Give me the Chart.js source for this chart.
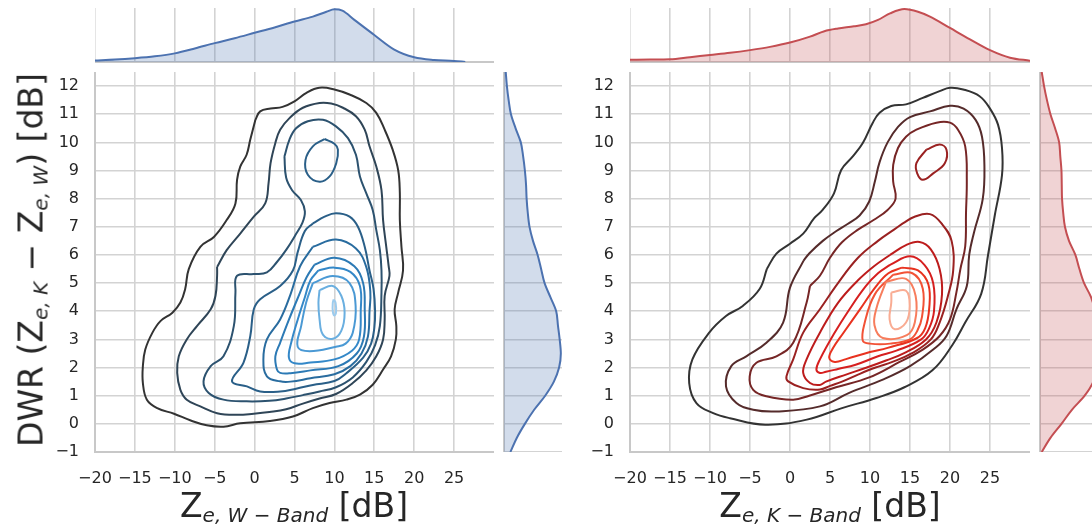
<!DOCTYPE html>
<html>
<head>
<meta charset="utf-8">
<script src="https://cdn.jsdelivr.net/npm/chart.js@4.4.1/dist/chart.umd.min.js"></script>
<style>
  html, body { margin: 0; padding: 0; background: #fff; overflow: hidden; }
  body { width: 1092px; height: 524px; position: relative; font-family: "DejaVu Sans", sans-serif; color: #262626; }
  .pane { position: absolute; }
  .pane canvas { display: block; }
  .xt { position: absolute; top: 489px; transform: translateX(-50%); font-size: 33px; line-height: 1; white-space: nowrap; }
  .yt { position: absolute; left: 31px; top: 260px; transform: translate(-50%, -50%) rotate(-90deg); font-size: 33px; line-height: 1; white-space: nowrap; }
  .sub { font-size: 20px; font-style: italic; position: relative; top: 5px; }
</style>
</head>
<body>
<div class="pane" style="left:95px;top:8px"><canvas id="wTop" width="399" height="56"></canvas></div>
<div class="pane" style="left:630px;top:8px"><canvas id="kTop" width="400" height="56"></canvas></div>
<div class="pane" style="left:35px;top:72px"><canvas id="wMain" width="459" height="420"></canvas></div>
<div class="pane" style="left:570px;top:72px"><canvas id="kMain" width="460" height="420"></canvas></div>
<div class="pane" style="left:503px;top:72px"><canvas id="wSide" width="59" height="380"></canvas></div>
<div class="pane" style="left:1039px;top:72px"><canvas id="kSide" width="59" height="380"></canvas></div>

<div class="yt">DWR (Z<span class="sub">e, K</span> − Z<span class="sub">e, W</span>) [dB]</div>
<div class="xt" style="left:294px">Z<span class="sub">e, W − Band</span> [dB]</div>
<div class="xt" style="left:830px">Z<span class="sub">e, K − Band</span> [dB]</div>

<script>
// axes
const xRange = [-20, 30];
const yRange = [-1, 12.5];
const xTicks = [-20, -15, -10, -5, 0, 5, 10, 15, 20, 25];
const yTicks = [-1, 0, 1, 2, 3, 4, 5, 6, 7, 8, 9, 10, 11, 12];

// marginal kde, W band (top: over Ze, side: over DWR), relative density
const wTopX = [-20, -17.5, -15, -12.5, -10, -7.5, -5, -2.5, 0, 2.5, 5, 7.3, 9, 10, 11, 12.5, 15, 17.5, 20, 22.5, 25, 26.4];
const wTopDens = [0.03, 0.045, 0.07, 0.105, 0.16, 0.25, 0.35, 0.44, 0.54, 0.64, 0.75, 0.84, 0.93, 0.975, 0.95, 0.78, 0.50, 0.23, 0.087, 0.037, 0.02, 0.0];
const sideY = [-1, -0.5, 0, 0.5, 1, 1.5, 2, 2.5, 3, 3.5, 4, 4.5, 5, 5.5, 6, 6.5, 7, 7.5, 8, 8.5, 9, 9.5, 10, 10.5, 11, 11.5, 12, 12.5];
const wSideDens = [0.11, 0.22, 0.36, 0.52, 0.71, 0.86, 0.95, 0.98, 0.96, 0.93, 0.90, 0.80, 0.70, 0.64, 0.58, 0.50, 0.44, 0.41, 0.39, 0.38, 0.36, 0.33, 0.29, 0.20, 0.12, 0.08, 0.05, 0.03];

// marginal kde, K band
const kTopX = [-20, -17.5, -15, -12.5, -10, -7.5, -5, -2.5, 0, 2.5, 4.3, 6, 8, 9.5, 11, 12.5, 14.3, 16, 17.5, 20, 22.5, 25, 27.5, 30];
const kTopDens = [0.04, 0.045, 0.05, 0.09, 0.13, 0.17, 0.22, 0.28, 0.36, 0.47, 0.57, 0.62, 0.66, 0.70, 0.78, 0.90, 0.98, 0.93, 0.84, 0.63, 0.42, 0.22, 0.08, 0.025];
const kSideDens = [0.03, 0.18, 0.37, 0.55, 0.77, 0.92, 0.98, 1.0, 0.99, 0.97, 0.95, 0.88, 0.76, 0.68, 0.61, 0.50, 0.43, 0.40, 0.38, 0.375, 0.37, 0.35, 0.33, 0.26, 0.18, 0.12, 0.07, 0.03];

// 2d kde contours, W band: [Ze, DWR] vertices, outermost level first
const wLevels = [0, 1, 2, 3, 3, 4, 5, 6, 7, 8, 9];
const wPaths = [
  [[0.1,10.8],[0.7,11.1],[2,11.2],[3.5,11.26],[5,11.46],[6.5,11.76],[8.1,11.94],[10,11.88],[11.9,11.7],[14,11.4],[15.25,11.05],[16.3,10.45],[17.3,9.74],[18,9.0],[18.2,8.2],[18.2,7.24],[18.4,6.3],[18.6,5.45],[18,4.67],[17.55,4.07],[17.76,3.48],[17.7,3.0],[17.1,2.4],[16.1,1.93],[14.8,1.39],[13.2,1.04],[11.5,0.86],[9.4,0.74],[7.3,0.56],[4.8,0.26],[1.9,0.1],[-1.8,0.02],[-3.9,-0.1],[-6,-0.05],[-8,0.12],[-10.1,0.36],[-12.2,0.56],[-13.5,0.86],[-14,1.45],[-14,2.05],[-13.7,2.64],[-12.8,3.24],[-11.8,3.65],[-10.3,3.95],[-9.3,4.31],[-8.7,4.79],[-8.25,5.5],[-6.8,6.29],[-5.1,6.64],[-3.5,7.24],[-2.4,7.83],[-2.2,8.67],[-1.8,9.14],[-1,9.56],[-0.54,10.1],[0.1,10.8]],
  [[-4.7,5.57],[-3.5,6.17],[-1.8,6.76],[-0.1,7.36],[1.33,7.83],[1.75,8.55],[2.0,9.26],[2.6,9.98],[3.2,10.45],[4.4,10.87],[6.05,11.23],[8.14,11.4],[9.6,11.38],[11.07,11.23],[12.7,10.93],[13.8,10.45],[14.4,9.86],[15.25,9.14],[15.9,8.3],[16.1,7.24],[16.5,6.29],[16.8,5.6],[16.9,5.26],[16.3,4.55],[16.3,3.71],[16.1,3.0],[15.25,2.4],[14,1.9],[12.3,1.45],[10.2,1.06],[8.14,0.9],[6.05,0.72],[3.95,0.52],[1.86,0.42],[-0.1,0.36],[-2.2,0.32],[-4.7,0.38],[-6.8,0.62],[-8.5,0.86],[-9.3,1.21],[-9.7,1.81],[-9.5,2.4],[-8.5,3.0],[-7.2,3.48],[-5.5,4.07],[-4.9,4.55],[-4.7,5.26],[-4.7,5.57]],
  [[3.74,9.5],[4.37,10.1],[5.2,10.5],[6.67,10.75],[8.56,10.8],[10.2,10.57],[11.7,10.15],[12.7,9.56],[13.2,8.79],[14,8.19],[14.8,7.6],[15.25,6.88],[15.7,6.17],[15.9,5.45],[15.9,4.67],[15.7,3.48],[15.1,2.8],[14,2.2],[12.3,1.65],[10.2,1.3],[8.14,1.15],[6.05,1.02],[3.95,0.9],[1.86,0.82],[-1,0.8],[-3.9,0.86],[-5.75,1.1],[-6.4,1.51],[-5.5,2.05],[-3.9,2.4],[-2.6,3.48],[-2.4,4.67],[-2.2,5.26],[-0.1,5.32],[1.54,5.38],[2.8,5.75],[4.0,6.2],[5.1,6.7],[6.0,7.15],[6.3,7.55],[5.8,7.95],[4.7,8.3],[3.95,8.75],[3.74,9.5]],
  [[8.77,10.12],[10.0,9.95],[10.44,9.74],[10.23,9.26],[9.4,8.79],[8.14,8.6],[6.67,8.85],[6.38,9.38],[7.3,9.86],[8.77,10.12]],
  [[7.3,7.12],[8.77,7.36],[10.2,7.48],[11.9,7.36],[12.95,7.0],[13.8,6.29],[14.4,5.45],[14.9,4.8],[15.1,4.0],[15.0,3.4],[14.6,2.85],[13.6,2.35],[11.5,1.8],[10,1.52],[7.3,1.38],[5.2,1.25],[3.2,1.15],[0.7,1.15],[-0.96,1.33],[-2.83,1.51],[-1.4,2.17],[-0.54,3.12],[-0.1,4.07],[0.7,4.43],[3.2,4.9],[4.8,5.45],[5.4,6.1],[6.3,6.85],[7.3,7.12]],
  [[7.3,6.29],[10.2,6.55],[12.7,6.23],[14,5.57],[14.5,4.7],[14.4,4.0],[14.2,3.1],[13.4,2.5],[12,2.05],[10,1.76],[7,1.62],[4.5,1.5],[3.2,1.51],[1.54,1.69],[1.1,2.29],[1.54,3.0],[3.2,3.71],[4.5,4.6],[5.7,5.6],[7.3,6.29]],
  [[7.5,5.65],[10,5.9],[12.5,5.6],[13.6,5.0],[13.8,4.07],[13.7,3.1],[12.8,2.5],[10.5,2.05],[7,1.9],[4.5,1.8],[3.2,1.81],[2.8,1.93],[2.6,2.4],[3.2,2.88],[4.3,3.7],[5.6,4.6],[6.5,5.2],[7.5,5.65]],
  [[8,5.45],[10,5.55],[12,5.4],[13.2,4.9],[13.3,4.0],[13.1,3.0],[12.2,2.6],[10,2.29],[7,2.18],[5,2.15],[4.3,2.35],[4.6,2.9],[5.4,3.7],[6.3,4.5],[7,5.1],[8,5.45]],
  [[7.3,5.0],[9.8,5.25],[11.9,5.0],[12.66,4.19],[12.3,3.24],[11.4,2.85],[10.2,2.74],[6.9,2.58],[5.4,2.74],[5.84,3.48],[6.46,4.31],[7.3,5.0]],
  [[8.14,4.75],[9.8,4.9],[10.86,4.55],[11.28,3.95],[10.86,3.3],[9.8,3.02],[8.56,3.17],[8.14,3.71],[8.0,4.3],[8.14,4.75]],
  [[9.9,4.42],[10.15,4.3],[10.2,3.95],[10.0,3.85],[9.8,4.0],[9.8,4.3],[9.9,4.42]]
];

// 2d kde contours, K band
const kLevels = [0, 1, 2, 3, 3, 4, 5, 6, 7, 8, 9];
const kPaths = [
  [[-2.9,5.5],[-1.7,6.05],[0,6.4],[1.65,6.76],[3.0,7.3],[4.08,7.6],[5.5,8.19],[6.4,9.02],[7.85,9.5],[9.1,9.98],[10.35,10.7],[11.2,11.05],[12.65,11.29],[14.5,11.35],[16.6,11.58],[18.7,11.82],[20,11.94],[21.65,11.88],[23.7,11.64],[25,11.2],[26,10.63],[26.5,9.8],[26.5,8.84],[25.6,7.41],[24.75,5.99],[23.9,4.62],[21.9,3.6],[20.3,2.8],[17.8,1.9],[14.3,1.3],[10.8,0.92],[6.5,0.56],[2.1,0.15],[-3.1,-0.03],[-7.5,0.2],[-9.6,0.38],[-11.7,0.74],[-12.6,1.45],[-12.2,2.29],[-10.1,3.24],[-8,3.83],[-5.9,4.19],[-3.8,4.79],[-2.9,5.5]],
  [[1.7,5.8],[2.4,6.05],[4.1,6.5],[5.8,6.85],[7.2,7.1],[8.7,7.4],[9.9,7.9],[10.6,8.6],[11.2,9.3],[12.2,10.0],[13.5,10.55],[15,10.9],[17.5,11.1],[20,11.3],[21.7,11.2],[23.2,10.8],[24,10.2],[24.3,9.2],[24.1,8.0],[23.0,6.8],[22.4,6.0],[22.1,4.9],[20.8,4.07],[19.56,3.12],[17.9,2.64],[15,2.05],[11.6,1.57],[7.4,1.1],[3.74,0.62],[-1.7,0.44],[-4.6,0.5],[-6.7,0.74],[-8,1.33],[-7.34,2.05],[-5.46,2.4],[-2.95,2.88],[-0.86,3.6],[0,4.84],[1.7,5.8]],
  [[2.5,4.9],[3.74,5.26],[5,5.9],[6.5,6.45],[8.5,6.9],[10.5,7.25],[12.2,7.6],[13.2,8.0],[12.9,8.6],[12.9,9.2],[13.5,9.8],[14.5,10.2],[15.8,10.45],[18.3,10.7],[20,10.7],[21,10.45],[21.9,9.86],[22.1,8.67],[22,7.48],[21.9,6.3],[21.3,5.5],[20.8,4.67],[20,3.71],[18.7,3.12],[16.6,2.64],[13.7,2.2],[9.9,1.65],[5.75,1.3],[2.4,1.0],[0.4,0.86],[-2.95,0.98],[-4.6,1.21],[-5.04,1.69],[-4.2,2.17],[-1.7,2.4],[0.4,2.88],[2.07,4.3],[2.5,4.9]],
  [[17.05,9.74],[18.7,9.92],[19.56,9.74],[19.35,9.26],[17.9,8.9],[16.6,8.67],[15.9,8.9],[15.8,9.26],[17.05,9.74]],
  [[14.1,7.12],[15.5,7.35],[17.5,7.45],[19,7.1],[20.2,6.5],[20.4,5.45],[19.7,4.5],[18.7,3.6],[17.6,3.0],[15.2,2.5],[12.8,2.2],[10.7,2.0],[8.5,1.75],[6.5,1.5],[5,1.35],[3.74,1.22],[1.65,1.27],[-0.23,1.51],[-0.44,1.69],[0.4,2.29],[1.65,3.24],[3.74,4.07],[6,5.0],[8.5,5.9],[11,6.5],[13,6.9],[14.1,7.12]],
  [[12.5,6.0],[14.5,6.35],[16.2,6.46],[17.6,6.2],[18.7,5.5],[19.0,4.6],[18.3,3.6],[17.0,3.0],[14.2,2.5],[12,2.25],[9.6,2.0],[7,1.75],[4.5,1.5],[3.74,1.38],[2.5,1.45],[1.65,1.81],[2.07,2.29],[3.74,3.24],[6,4.3],[8.5,5.1],[10.5,5.6],[12.5,6.0]],
  [[12.5,5.65],[15,5.95],[16.8,5.65],[17.9,5.0],[18.0,4.0],[17.4,3.4],[16.4,3.0],[13.3,2.6],[11,2.4],[8.2,2.1],[6,1.95],[4.5,1.85],[3.74,1.81],[3.3,1.93],[3.74,2.29],[5.5,3.2],[7.5,4.1],[9.5,4.9],[11,5.35],[12.5,5.65]],
  [[14,5.55],[16,5.45],[17.3,4.95],[17.4,4.1],[16.9,3.4],[15.9,3.05],[12.2,2.7],[10,2.55],[7,2.3],[5.6,2.2],[4.9,2.35],[5.4,2.7],[6.6,3.2],[8.7,4.05],[10.8,4.9],[12.3,5.35],[14,5.55]],
  [[12.9,5.3],[15.3,5.35],[16.6,4.8],[16.5,3.8],[15.9,3.3],[15,3.0],[12.5,2.85],[10,2.85],[9.1,2.95],[9.3,3.55],[10.6,4.6],[12.9,5.3]],
  [[12,5.05],[14.5,5.15],[15.7,4.55],[15.6,3.6],[14.6,3.15],[11.6,3.05],[10.56,3.5],[10.8,4.1],[12,5.05]],
  [[12.66,4.67],[14.5,4.73],[14.96,4.19],[14.5,3.6],[13.1,3.36],[12.45,3.71],[12.66,4.31],[12.66,4.67]]
];

const bluesD = ['#333333', '#2f4557', '#2c526f', '#2a5f88', '#296c9f', '#2c7ab5', '#3488c8', '#4a99d4', '#6aafe0', '#9ccbed'];
const redsD = ['#333333', '#552b2b', '#762626', '#9a2121', '#bd1c1c', '#d61f1f', '#e8321f', '#f25236', '#f77d5d', '#f9ac93'];

const gridColor = '#d3d3d3';
const spineColor = '#c8c8c8';
const tickFont = { family: 'DejaVu Sans', size: 16 };
const textColor = '#262626';

Chart.defaults.font.family = 'DejaVu Sans';

function fmt(v) {
    return v < 0 ? '\u2212' + Math.abs(v) : String(v);
}

function axis(range, ticks, opts) {
    return {
        type: 'linear',
        display: opts.display !== false,
        min: range[0], max: range[1],
        afterBuildTicks: s => { s.ticks = ticks.map(v => ({ value: v })); },
        afterFit: s => {
            if (s.isHorizontal()) s.height = opts.size; else s.width = opts.size;
            s.paddingTop = s.paddingBottom = s.paddingLeft = s.paddingRight = 0;
        },
        grid: { display: opts.grid !== false, color: gridColor, lineWidth: 1.6, drawTicks: false },
        border: { display: opts.border !== false, color: spineColor, width: 2 },
        ticks: {
            display: !!opts.labels, autoSkip: false, maxRotation: 0,
            padding: opts.pad || 0, font: tickFont, color: textColor,
            callback: v => fmt(v)
        }
    };
}

const baseOpts = {
    responsive: false, animation: false, events: [],
    plugins: { legend: { display: false }, tooltip: { enabled: false } }
};

function drawJoint(id, paths, levels, palette) {
    new Chart(document.getElementById(id), {
        type: 'scatter',
        data: {
            datasets: paths.map((p, i) => ({
                data: p.map(pt => ({ x: pt[0], y: pt[1] })),
                showLine: true, pointRadius: 0, borderWidth: 2,
                borderColor: palette[levels[i]], tension: 0.4, fill: false
            })).reverse()
        },
        options: {
            ...baseOpts,
            layout: { padding: 0 },
            scales: {
                x: axis(xRange, xTicks, { size: 40, labels: true, pad: 17 }),
                y: axis(yRange, yTicks, { size: 60, labels: true, pad: 16 })
            }
        }
    });
}

function drawTop(id, xs, dens, line, fillCol) {
    new Chart(document.getElementById(id), {
        type: 'line',
        data: {
            datasets: [{
                data: xs.map((x, i) => ({ x: x, y: dens[i] })),
                borderColor: line, backgroundColor: fillCol, borderWidth: 2,
                pointRadius: 0, cubicInterpolationMode: 'monotone', fill: 'origin'
            }]
        },
        options: {
            ...baseOpts,
            layout: { padding: { bottom: 2 } },
            scales: {
                x: axis(xRange, xTicks, { size: 0 }),
                y: { type: 'linear', display: false, min: 0, max: 1 }
            }
        }
    });
}

function drawSide(id, ys, dens, line, fillCol) {
    new Chart(document.getElementById(id), {
        type: 'line',
        data: {
            datasets: [{
                data: ys.map((y, i) => ({ x: dens[i], y: y })),
                borderColor: line, backgroundColor: fillCol, borderWidth: 2,
                pointRadius: 0, cubicInterpolationMode: 'monotone', fill: 'origin'
            }]
        },
        options: {
            ...baseOpts,
            indexAxis: 'y',
            layout: { padding: { left: 1 } },
            scales: {
                y: axis(yRange, yTicks, { size: 0 }),
                x: { type: 'linear', display: false, min: 0, max: 1 }
            }
        }
    });
}

drawTop('wTop', wTopX, wTopDens, '#4c72b0', 'rgba(76,114,176,0.25)');
drawTop('kTop', kTopX, kTopDens, '#c44e52', 'rgba(196,78,82,0.25)');
drawJoint('wMain', wPaths, wLevels, bluesD);
drawJoint('kMain', kPaths, kLevels, redsD);
drawSide('wSide', sideY, wSideDens, '#4c72b0', 'rgba(76,114,176,0.25)');
drawSide('kSide', sideY, kSideDens, '#c44e52', 'rgba(196,78,82,0.25)');
</script>
</body>
</html>
